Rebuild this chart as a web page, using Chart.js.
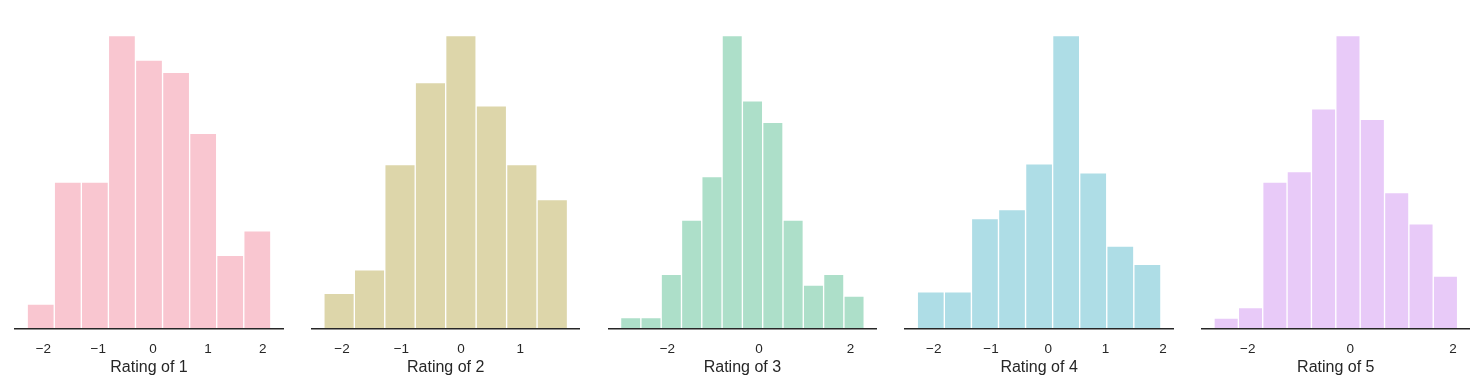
<!DOCTYPE html>
<html>
<head>
<meta charset="utf-8">
<script src="https://cdn.jsdelivr.net/npm/chart.js@4.4.1/dist/chart.umd.min.js"></script>
<style>
  html, body { margin: 0; padding: 0; background: #ffffff; }
  body { width: 1482px; height: 391px; position: relative; overflow: hidden; }
  canvas { position: absolute; top: 0; }
</style>
</head>
<body>
<canvas id="c0"></canvas>
<canvas id="c1"></canvas>
<canvas id="c2"></canvas>
<canvas id="c3"></canvas>
<canvas id="c4"></canvas>
<script>
// ---- Data (histogram counts and bin edges) ----
const titles = ["Rating of 1", "Rating of 2", "Rating of 3", "Rating of 4", "Rating of 5"];

const counts1 = [2, 12, 12, 24, 22, 21, 16, 6, 8];
const edges1  = [-2.295, -1.801, -1.308, -0.814, -0.321, 0.173, 0.667, 1.160, 1.654, 2.147];

const counts2 = [3, 5, 14, 21, 25, 19, 14, 11];
const edges2  = [-2.304, -1.792, -1.280, -0.768, -0.256, 0.256, 0.769, 1.281, 1.793];

const counts3 = [1, 1, 5, 10, 14, 27, 21, 19, 10, 4, 5, 3];
const edges3  = [-3.022, -2.579, -2.135, -1.692, -1.248, -0.805, -0.361, 0.082, 0.526, 0.969, 1.413, 1.856, 2.300];

const counts4 = [4, 4, 12, 13, 18, 32, 17, 9, 7];
const edges4  = [-2.287, -1.815, -1.342, -0.870, -0.397, 0.075, 0.547, 1.020, 1.492, 1.965];

const counts5 = [1, 2, 14, 15, 21, 28, 20, 13, 10, 5];
const edges5  = [-2.658, -2.183, -1.708, -1.234, -0.759, -0.284, 0.191, 0.666, 1.140, 1.615, 2.090];

const ticks1 = [-2, -1, 0, 1, 2];
const ticks2 = [-2, -1, 0, 1];
const ticks3 = [-2, 0, 2];
const ticks4 = [-2, -1, 0, 1, 2];
const ticks5 = [-2, 0, 2];

// ---- Styling / layout ----
const allCounts = [counts1, counts2, counts3, counts4, counts5];
const allEdges  = [edges1, edges2, edges3, edges4, edges5];
const allTicks  = [ticks1, ticks2, ticks3, ticks4, ticks5];
const colors = ["#f9c6d0", "#ddd6aa", "#addfc9", "#aedde6", "#e8caf8"];
const textColor = "#262626";

Chart.defaults.font.family = "'Liberation Sans', Arial, sans-serif";
Chart.defaults.color = textColor;

const panelLeft0 = 15;
const panelStep = 296.7;
const panelWidth = 268;
const sidePad = 12;
const canvasH = 391;
const tickPad = 12.5;

function fmt(v) {
  return v < 0 ? "\u2212" + Math.abs(v) : String(v);
}

for (let i = 0; i < 5; i++) {
  const counts = allCounts[i];
  const edges = allEdges[i];
  const tickVals = allTicks[i];
  const points = counts.map((c, k) => ({ x: (edges[k] + edges[k + 1]) / 2, y: c }));
  const lo = edges[0], hi = edges[edges.length - 1];
  const m = (hi - lo) * 0.05;
  const ymax = Math.max(...counts) * 1.05;

  const pl = panelLeft0 + i * panelStep;
  const cl = Math.round(pl) - sidePad;
  const padL = pl - cl;
  const cw = Math.round(panelWidth + 2 * sidePad);
  const padR = cw - padL - panelWidth;

  const cv = document.getElementById("c" + i);
  cv.width = cw;
  cv.height = canvasH;
  cv.style.left = cl + "px";
  cv.style.width = cw + "px";
  cv.style.height = canvasH + "px";

  new Chart(cv, {
    type: "bar",
    data: {
      datasets: [{
        data: points,
        backgroundColor: colors[i],
        borderColor: "#ffffff",
        borderWidth: 1,
        barPercentage: 1.0,
        categoryPercentage: 1.0
      }]
    },
    options: {
      responsive: false,
      animation: false,
      devicePixelRatio: 1,
      layout: { padding: { left: padL, right: padR, top: 21, bottom: 14 } },
      plugins: { legend: { display: false }, tooltip: { enabled: false } },
      scales: {
        x: {
          type: "linear",
          offset: false,
          min: lo - m,
          max: hi + m,
          grid: { display: false, drawTicks: false, offset: false },
          border: { display: true, color: textColor, width: 1.5, z: 1 },
          afterBuildTicks: (scale) => { scale.ticks = tickVals.map(v => ({ value: v })); },
          ticks: {
            padding: tickPad,
            font: { size: 13.5 },
            color: textColor,
            maxRotation: 0,
            autoSkip: false,
            callback: (v) => fmt(v)
          },
          title: {
            display: true,
            text: titles[i],
            color: textColor,
            font: { size: 16 },
            padding: { top: -11.9, bottom: 0 }
          }
        },
        y: {
          display: false,
          min: 0,
          max: ymax
        }
      }
    }
  });
}
</script>
</body>
</html>
